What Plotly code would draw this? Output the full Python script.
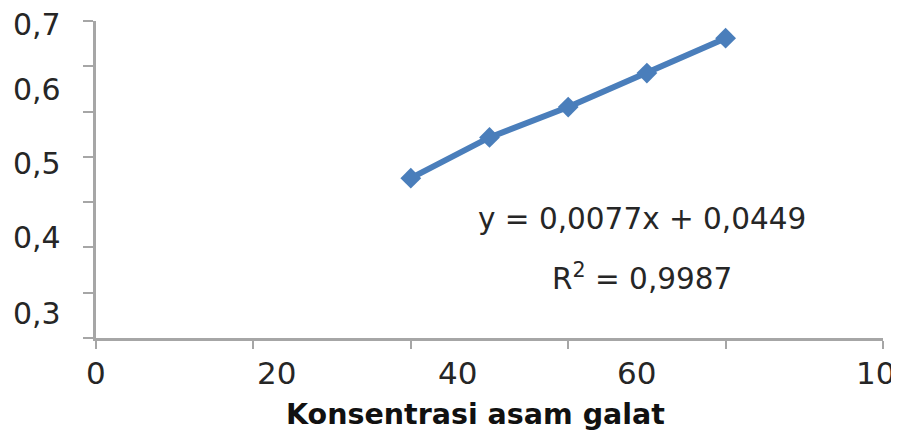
import plotly.graph_objects as go

# data
konsentrasi = [40, 50, 60, 70, 80]
absorbansi = [0.353, 0.443, 0.510, 0.585, 0.662]

x_tick_text = ["0", "20", "40", "60", "10"]
x_tick_pos = [0, 22.9, 45.9, 68.7, 99.1]
y_tick_text = ["0,7", "0,6", "0,5", "0,4", "0,3"]
y_tick_pos = [0.692, 0.549, 0.386, 0.221, 0.055]

equation = "y = 0,0077x + 0,0449"
r2_text = "R<sup>2</sup> = 0,9987"

blue = "#4A7EBB"
axis_col = "#A6A6A6"
txt_col = "#262626"
num_font = "DejaVu Sans"

fig = go.Figure()
fig.add_trace(go.Scatter(
    x=konsentrasi, y=absorbansi, mode="lines+markers",
    line=dict(color=blue, width=6),
    marker=dict(symbol="diamond", size=16, color=blue),
    showlegend=False, hoverinfo="skip",
))

annotations = []
for t, p in zip(x_tick_text, x_tick_pos):
    annotations.append(dict(x=p, y=0, xref="x", yref="paper", text=t,
                            showarrow=False, xanchor="center", yanchor="top",
                            yshift=-15, font=dict(family=num_font, size=31, color=txt_col)))
for t, p in zip(y_tick_text, y_tick_pos):
    annotations.append(dict(x=0, y=p, xref="paper", yref="y", text=t,
                            showarrow=False, xanchor="right", yanchor="middle",
                            xshift=-33, font=dict(family=num_font, size=30, color=txt_col)))
annotations.append(dict(x=69.4, y=0.2625, xref="x", yref="y", text=equation,
                        showarrow=False, xanchor="center", yanchor="middle",
                        font=dict(family=num_font, size=29.5, color=txt_col)))
annotations.append(dict(x=69.4, y=0.1346, xref="x", yref="y", text=r2_text,
                        showarrow=False, xanchor="center", yanchor="middle",
                        font=dict(family=num_font, size=29.5, color=txt_col)))
annotations.append(dict(x=(475 - 96) / 787, y=0, xref="paper", yref="paper",
                        text="<b>Konsentrasi asam galat</b>",
                        showarrow=False, xanchor="center", yanchor="middle",
                        yshift=-76, font=dict(family="DejaVu Sans", size=28.5, color="#111111")))

fig.update_layout(
    width=891, height=422,
    margin=dict(l=88, r=16, t=13, b=92),
    paper_bgcolor="white", plot_bgcolor="white",
    annotations=annotations,
    xaxis=dict(range=[0, 100], tickvals=[0, 20, 40, 60, 80, 100], showticklabels=False,
               ticks="outside", ticklen=8, tickcolor=axis_col, tickwidth=2,
               showline=True, linecolor=axis_col, linewidth=2.5,
               showgrid=False, zeroline=False),
    yaxis=dict(range=[0, 0.7], tickvals=[0, 0.1, 0.2, 0.3, 0.4, 0.5, 0.6, 0.7],
               showticklabels=False,
               ticks="outside", ticklen=10, tickcolor=axis_col, tickwidth=2,
               showline=True, linecolor=axis_col, linewidth=2.5,
               showgrid=False, zeroline=False),
)

fig.write_html("out.html")
